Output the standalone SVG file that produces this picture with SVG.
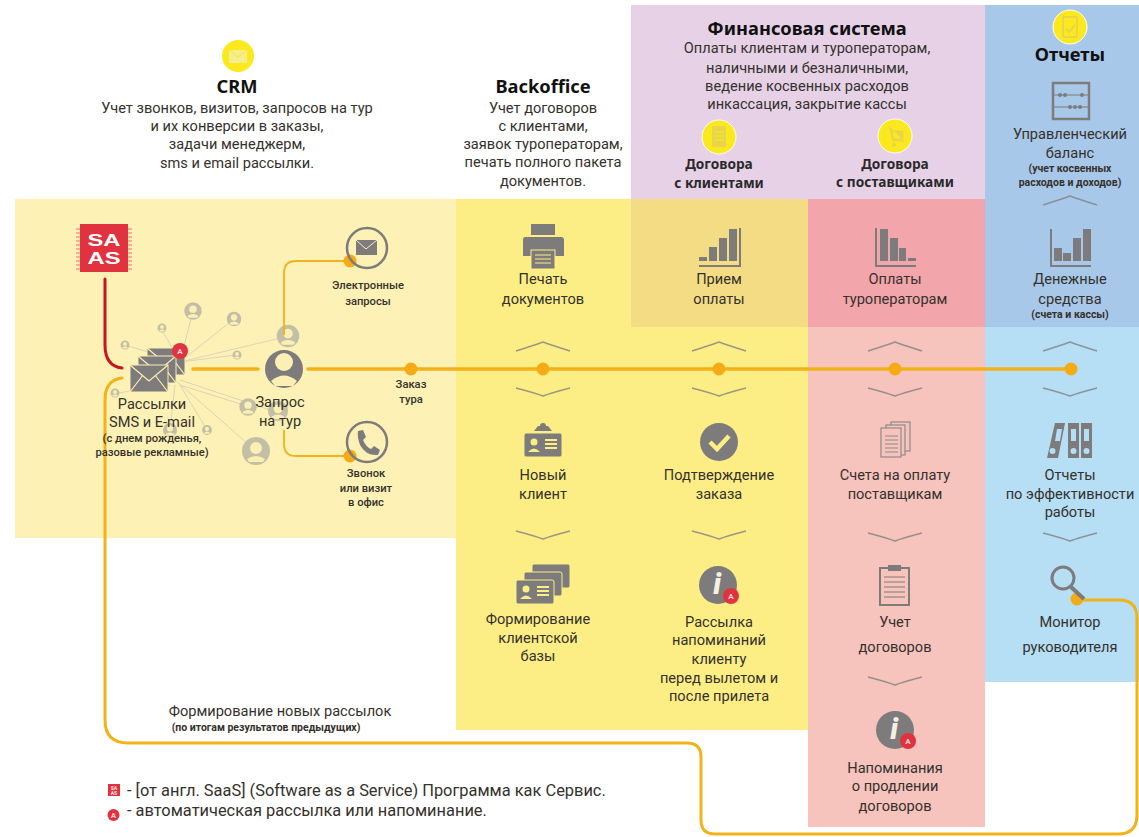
<svg xmlns="http://www.w3.org/2000/svg" width="1139" height="837" viewBox="0 0 1139 837">
<defs>
<style>
text{font-family:"Roboto","Liberation Sans",sans-serif;fill:#35312c;text-anchor:middle}
.d{font-size:14.6px}.m{font-size:14.6px}.s{font-size:11.2px;font-weight:500}.xs{font-size:10.5px;font-weight:700}
.t{font-family:"Noto Sans","Liberation Sans",sans-serif;font-weight:700;font-size:18.3px;fill:#111}
.st{font-family:"Noto Sans","Liberation Sans",sans-serif;font-weight:700;font-size:13.7px;fill:#2a2a2a}
.ic{fill:#7d7b7b}.iw{fill:none;stroke:#7d7b7b;stroke-width:2}
.chev{fill:none;stroke:#7f8282;stroke-width:1.4;opacity:.8}
.ln{fill:none;stroke:#f2b21a;stroke-width:3.5;stroke-linecap:round}
.thin{fill:none;stroke:#f2b21a;stroke-width:1.8}
.dot{fill:#f5ab15}
.ray{stroke:#d9d6b8;stroke-width:1;fill:none}
</style>
<path id="up" class="chev" d="M-27 5Q-8 -1 0 -4Q8 -1 27 5"/>
<path id="down" class="chev" d="M-27 -4Q-8 1 0 4Q8 1 27 -4"/>
<g id="badge"><circle r="8" fill="#e0323f"/><text y="3" style="font-size:8px;fill:#f8d8d8;font-weight:700">A</text></g>
<g id="person"><circle r="14" fill="#c2bfa6"/><circle cy="-3" r="6" fill="#fbefb3"/><path d="M-9 8Q0 2 9 8L7 11H-7Z" fill="#fbefb3"/></g>
<g id="info"><circle r="19" fill="#7d7b7b"/><text x="-1" y="9" style="font-size:29px;font-style:italic;font-weight:900;fill:#f5f0e0">i</text><use href="#badge" x="13" y="11"/></g>
<g id="env"><rect x="-19" y="-13" width="38" height="27" fill="#7d7b7b" stroke="#fbefb3" stroke-width="1"/><path d="M-19 -13L0 3L19 -13M-19 14L-6 -3M19 14L6 -3" fill="none" stroke="#fbefb3" stroke-width="1.2"/></g>
<rect id="blank" x="-19" y="-12" width="38" height="24" rx="2" fill="#7d7b7b" stroke="#fbee85" stroke-width="1"/>
<g id="card"><use href="#blank"/><circle cx="-9" cy="-3" r="3.500" fill="#fbee85"/><path d="M-15 7Q-9 0 -3 7Z" fill="#fbee85"/><path d="M2 -5H14M2 -1H14M2 3H14" stroke="#fbee85" stroke-width="2"/></g>
</defs>

<g id="backgrounds">
<rect x="15" y="199" width="441" height="339" fill="#fdf1b5"/>
<rect x="456" y="199" width="352" height="531" fill="#fcee85"/>
<rect x="631" y="199" width="177" height="128" fill="#f4dc85"/>
<rect x="808" y="199" width="177" height="628" fill="#f6c3bd"/>
<rect x="808" y="199" width="177" height="128" fill="#f2a6ab"/>
<rect x="631" y="5" width="354" height="194" fill="#e6d1e7"/>
<rect x="985" y="5" width="154" height="322" fill="#a8c8e9"/>
<rect x="985" y="327" width="154" height="355" fill="#b6def4"/>
</g>

<g id="rays">
<path class="ray" d="M180 362L193 311M180 362L234 319M180 362L162 330M180 362L125 345M180 362L289 336M180 362L236 355M170 385L118 393M175 385L170 430M180 385L207 430M180 385L247 406M175 380L256 451M180 380L276 412"/>
<use href="#person" transform="translate(193 311) scale(.62)"/>
<use href="#person" transform="translate(234 319) scale(.52)"/>
<use href="#person" transform="translate(162 328) scale(.32)"/>
<use href="#person" transform="translate(125 345) scale(.32)"/>
<use href="#person" transform="translate(237 355) scale(.32)"/>
<use href="#person" transform="translate(288 336) scale(.8)"/>
<use href="#person" transform="translate(248 407) scale(.62)"/>
<use href="#person" transform="translate(278 411) scale(.72)"/>
<use href="#person" transform="translate(115 393) scale(.32)"/>
<use href="#person" transform="translate(170 430) scale(.5)"/>
<use href="#person" transform="translate(207 430) scale(.35)"/>
<use href="#person" transform="translate(256 451) scale(1)"/>
</g>

<g id="connectors">
<path d="M105 279V345Q105 366 122 368" fill="none" stroke="#c4161f" stroke-width="3" stroke-linecap="round"/>
<path class="ln" d="M193 369H258M308 369H1071"/>
<path class="ln" style="stroke-width:3" d="M122 378Q105 380 105 400V720Q105 743 128 743H687Q701 743 701 757V820Q701 834 715 834H1118Q1137 834 1137 815V618Q1137 600 1119 600H1080"/>
<path class="thin" d="M284 335V273Q284 261 296 261H350M284 430V444Q284 456 296 456H350"/>
<g class="dot"><circle cx="350" cy="261" r="6.500"/><circle cx="350" cy="456" r="6.500"/><circle cx="411" cy="369" r="6.500"/><circle cx="543" cy="369" r="6.500"/><circle cx="719" cy="369" r="6.500"/><circle cx="895" cy="369" r="6.500"/><circle cx="1071" cy="369" r="6.500"/><circle cx="1077" cy="599" r="6.500"/></g>
</g>

<g id="crm-head">
<circle cx="238" cy="56" r="16" fill="#fbe91e"/><rect x="229" y="50" width="18" height="13" rx="1" fill="#f3ee8e"/><path d="M229 50L238 57L247 50" fill="none" stroke="#fbe91e"/>
<text class="t" x="237" y="93">CRM</text>
<text class="m" x="237" y="113">Учет звонков, визитов, запросов на тур</text>
<text class="m" x="237" y="131">и их конверсии в заказы,</text>
<text class="m" x="237" y="149">задачи менеджерм,</text>
<text class="m" x="237" y="168">sms и email рассылки.</text>
</g>
<g id="backoffice-head">
<text class="t" x="543" y="93">Backoffice</text>
<text class="m" x="543" y="113">Учет договоров</text>
<text class="m" x="543" y="131">с клиентами,</text>
<text class="m" x="543" y="149">заявок туроператорам,</text>
<text class="m" x="543" y="167">печать полного пакета</text>
<text class="m" x="543" y="186">документов.</text>
</g>
<g id="finance-head">
<text class="t" x="807" y="35">Финансовая система</text>
<text class="m" x="807" y="53">Оплаты клиентам и туроператорам,</text>
<text class="m" x="807" y="73">наличными и безналичными,</text>
<text class="m" x="807" y="91">ведение косвенных расходов</text>
<text class="m" x="807" y="109">инкассация, закрытие кассы</text>
</g>
<g id="contracts-clients">
<circle cx="719" cy="137" r="17" fill="#fbe91e" stroke="#fff"/><rect x="712" y="126" width="14" height="21" fill="#e8d54c"/><path d="M714 132H724M714 136H724M714 140H724" stroke="#fbe91e"/>
<text class="st" x="719" y="169">Договора</text><text class="st" x="719" y="188">с клиентами</text>
</g>
<g id="contracts-suppliers">
<circle cx="895" cy="136" r="17" fill="#fbe91e" stroke="#fff"/><path d="M889 126L893 141H904M893 131H903V139H894" fill="#e8d54c" stroke="#e8d54c"/><circle cx="894" cy="145" r="2" fill="#e8d54c"/>
<text class="st" x="895" y="169">Договора</text><text class="st" x="895" y="187">с поставщиками</text>
</g>
<g id="reports-head">
<circle cx="1070" cy="27" r="17" fill="#fbe91e" stroke="#fff"/><rect x="1063" y="17" width="14" height="20" rx="1" fill="none" stroke="#e8d54c" stroke-width="2"/><path d="M1066 29L1069 32L1075 25" fill="none" stroke="#e8d54c" stroke-width="2"/>
<text class="t" x="1070" y="61">Отчеты</text>
</g>

<g id="saas">
<path d="M76 229H132M76 233H132M76 237H132M76 241H132M76 245H132M76 249H132M76 253H132M76 257H132M76 261H132M76 265H132M76 269H132" stroke="#e0323f" stroke-width=".7"/>
<rect x="80" y="224" width="48" height="48" fill="#e0323f"/>
<text x="104" y="246" textLength="33" lengthAdjust="spacingAndGlyphs" style="font-size:17px;font-weight:700;fill:#fff;font-family:'Liberation Sans',sans-serif">SA</text>
<text x="104" y="264" textLength="33" lengthAdjust="spacingAndGlyphs" style="font-size:17px;font-weight:700;fill:#fff;font-family:'Liberation Sans',sans-serif">AS</text>
</g>
<g id="mailing">
<use href="#env" transform="translate(166 361)"/>
<use href="#env" transform="translate(157 369)"/>
<use href="#env" transform="translate(149 378)"/>
<use href="#badge" x="180" y="351"/>
<text class="m" x="152" y="409">Рассылки</text>
<text class="m" x="152" y="427">SMS и E-mail</text>
<text class="s" x="152" y="442">(с днем рожденья,</text>
<text class="s" x="152" y="456">разовые рекламные)</text>
</g>
<g id="request">
<circle cx="284" cy="369" r="19" fill="#7d7b7b"/><circle cx="284" cy="362" r="9" fill="#fbefb3"/><path d="M271 381Q284 370 297 381L293 386H275Z" fill="#fbefb3"/>
<text class="m" x="280" y="407">Запрос</text>
<text class="m" x="280" y="426">на тур</text>
</g>
<g id="order"><text class="s" x="411" y="388">Заказ</text><text class="s" x="411" y="403">тура</text></g>
<g id="email-req">
<circle cx="367" cy="248" r="20" fill="none" stroke="#7d7b7b" stroke-width="2.500"/><rect x="356" y="240" width="21" height="15" fill="#7d7b7b"/><path d="M356 240L366 249L377 240" fill="none" stroke="#fbefb3"/>
<text class="s" x="368" y="289">Электронные</text><text class="s" x="368" y="305">запросы</text>
</g>
<g id="call">
<circle cx="367" cy="442" r="20" fill="none" stroke="#7d7b7b" stroke-width="2.500"/><path d="M358 431L363 430L366 437L363 440Q366 447 371 449L374 446L380 450L378 455Q366 456 360 445Q357 437 358 431Z" fill="#7d7b7b"/>
<text class="s" x="366" y="477">Звонок</text><text class="s" x="366" y="492">или визит</text><text class="s" x="366" y="506">в офис</text>
</g>

<g id="print">
<rect x="531" y="224" width="24" height="11" fill="#7d7b7b"/><path d="M525 237H561Q564 237 564 240V256H523V240Q523 237 525 237Z" fill="#7d7b7b"/><rect x="531" y="250" width="24" height="19" fill="#7d7b7b" stroke="#fbef85"/><path d="M535 255H551M535 259H551M535 263H551" stroke="#fbef85"/>
<text class="d" x="543" y="284">Печать</text><text class="d" x="543" y="304">документов</text>
</g>
<g id="new-client">
<use href="#card" transform="translate(543 445)"/><path d="M534 431H552L548 426H538Z" fill="#7d7b7b"/><circle cx="543" cy="426" r="3" fill="#7d7b7b"/>
<text class="d" x="543" y="480">Новый</text><text class="d" x="543" y="499">клиент</text>
</g>
<g id="base">
<use href="#blank" transform="translate(551 576)"/><use href="#blank" transform="translate(543 584)"/><use href="#card" transform="translate(535 592)"/>
<text class="d" x="538" y="624">Формирование</text><text class="d" x="538" y="643">клиентской</text><text class="d" x="538" y="661">базы</text>
</g>
<g id="receive">
<rect x="699" y="257" width="8" height="4" class="ic"/><rect x="709" y="247" width="8" height="14" class="ic"/><rect x="719" y="238" width="8" height="23" class="ic"/><rect x="729" y="229" width="8" height="32" class="ic"/><path d="M740 228V266H699" class="iw"/>
<text class="d" x="719" y="284">Прием</text><text class="d" x="719" y="304">оплаты</text>
</g>
<g id="confirm">
<circle cx="719" cy="442" r="19" fill="#7d7b7b"/><path d="M710 442L717 449L729 436" fill="none" stroke="#fbef85" stroke-width="4.500"/>
<text class="d" x="719" y="480">Подтверждение</text><text class="d" x="719" y="499">заказа</text>
</g>
<g id="remind-client">
<use href="#info" x="718" y="585"/>
<text class="d" x="719" y="627">Рассылка</text><text class="d" x="719" y="645">напоминаний</text><text class="d" x="719" y="664">клиенту</text><text class="d" x="719" y="683">перед вылетом и</text><text class="d" x="719" y="701">после прилета</text>
</g>
<g id="pay-ops">
<path d="M876 228V266H916" class="iw"/><rect x="880" y="229" width="8" height="32" class="ic"/><rect x="890" y="238" width="8" height="23" class="ic"/><rect x="899" y="248" width="7" height="13" class="ic"/><rect x="908" y="258" width="8" height="3" class="ic"/>
<text class="d" x="895" y="284">Оплаты</text><text class="d" x="895" y="304">туроператорам</text>
</g>
<g id="invoices" fill="#f6c3bd" stroke="#8f8a8a" stroke-width="1.200">
<rect x="891" y="422" width="19" height="29"/><rect x="886" y="425" width="19" height="30"/><rect x="881" y="428" width="20" height="29"/>
<path d="M885 436H898M885 440H898M885 444H898M885 448H898M885 452H898"/>
<text class="d" x="895" y="480" style="stroke:none">Счета на оплату</text><text class="d" x="895" y="499" style="stroke:none">поставщикам</text>
</g>
<g id="contracts">
<rect x="880" y="568" width="29" height="37" fill="#f6c3bd" stroke="#7d7b7b" stroke-width="2"/><rect x="888" y="565" width="13" height="6" fill="#7d7b7b"/><path d="M884 577H905M884 582H905M884 587H905M884 592H905M884 597H905" stroke="#7d7b7b"/>
<text class="d" x="895" y="627">Учет</text><text class="d" x="895" y="652">договоров</text>
</g>
<g id="remind-contracts">
<use href="#info" x="895" y="730"/>
<text class="d" x="895" y="773">Напоминания</text><text class="d" x="895" y="791">о продлении</text><text class="d" x="895" y="811">договоров</text>
</g>
<g id="balance">
<rect x="1053" y="83" width="36" height="36" fill="none" stroke="#7d7b7b" stroke-width="2.500"/><path d="M1054 95H1088M1054 107H1088" stroke="#7d7b7b"/>
<g class="ic"><circle cx="1060" cy="95" r="2"/><circle cx="1065" cy="95" r="2"/><circle cx="1082" cy="95" r="2"/><circle cx="1070" cy="107" r="2"/><circle cx="1075" cy="107" r="2"/><circle cx="1080" cy="107" r="2"/></g>
<text class="d" x="1070" y="139">Управленческий</text><text class="d" x="1070" y="158">баланс</text>
<text class="xs" x="1070" y="172">(учет косвенных</text><text class="xs" x="1070" y="186">расходов и доходов)</text>
</g>
<g id="money">
<path d="M1051 229V266H1091" class="iw"/><rect x="1054" y="248" width="8" height="13" class="ic"/><rect x="1063" y="253" width="8" height="8" class="ic"/><rect x="1073" y="238" width="8" height="23" class="ic"/><rect x="1083" y="229" width="8" height="32" class="ic"/>
<text class="d" x="1070" y="284">Денежные</text><text class="d" x="1070" y="304">средства</text><text class="xs" x="1070" y="318">(счета и кассы)</text>
</g>
<g id="reports">
<path d="M1055 423H1065L1058 458H1047Z" class="ic"/><rect x="1068" y="423" width="11" height="35" class="ic"/><rect x="1081" y="423" width="11" height="35" class="ic"/>
<g fill="#b6def4"><circle cx="1052.500" cy="451" r="3"/><circle cx="1073.500" cy="451" r="3"/><circle cx="1086.500" cy="451" r="3"/><rect x="1071" y="429" width="5" height="12"/><rect x="1084" y="429" width="5" height="12"/><path d="M1057 429H1062L1060 441H1055Z"/></g>
<text class="d" x="1070" y="480">Отчеты</text><text class="d" x="1070" y="499">по эффективности</text><text class="d" x="1070" y="517">работы</text>
</g>
<g id="monitor">
<circle cx="1063" cy="578" r="11" fill="none" stroke="#7d7b7b" stroke-width="3"/><path d="M1071 587L1084 599" stroke="#7d7b7b" stroke-width="4"/>
<text class="d" x="1070" y="627">Монитор</text><text class="d" x="1070" y="652">руководителя</text>
</g>

<g id="chevrons">
<use href="#up" x="543" y="346"/><use href="#down" x="543" y="392"/><use href="#down" x="543" y="535"/>
<use href="#up" x="719" y="346"/><use href="#down" x="719" y="392"/><use href="#down" x="719" y="535"/>
<use href="#up" x="895" y="346"/><use href="#down" x="895" y="392"/><use href="#down" x="895" y="537"/><use href="#down" x="895" y="681"/>
<use href="#up" x="1070" y="200"/><use href="#up" x="1070" y="346"/><use href="#down" x="1070" y="392"/><use href="#down" x="1070" y="537"/>
</g>

<g id="note">
<text class="d" x="280" y="716">Формирование новых рассылок</text>
<text class="xs" x="266" y="731">(по итогам результатов предыдущих)</text>
</g>
<g id="legend">
<rect x="108" y="784" width="12" height="12" fill="#e0323f"/>
<text x="114" y="789.500" style="font-size:5px;font-weight:900;fill:#f8d8d8">SA</text>
<text x="114" y="795" style="font-size:5px;font-weight:900;fill:#f8d8d8">AS</text>
<circle cx="113.500" cy="815" r="6" fill="#e0323f"/>
<text x="113.500" y="818" style="font-size:8px;font-weight:700;fill:#f8d8d8">A</text>
<text x="127" y="796" style="text-anchor:start;font-size:16.4px">- [от англ. SaaS] (Software as a Service) Программа как Сервис.</text>
<text x="127" y="816" style="text-anchor:start;font-size:16.4px">- автоматическая рассылка или напоминание.</text>
</g>
</svg>
